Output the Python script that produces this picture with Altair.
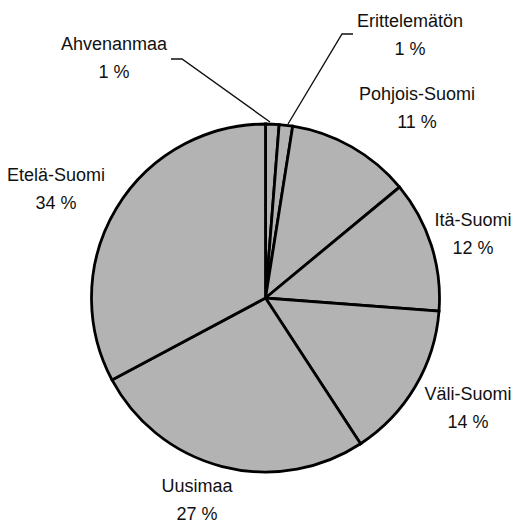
import altair as alt
import pandas as pd

# ---- data ----
regions = ["Ahvenanmaa", "Erittelemätön", "Pohjois-Suomi", "Itä-Suomi",
           "Väli-Suomi", "Uusimaa", "Etelä-Suomi"]
# shares as drawn (angles measured on the picture), clockwise from 12 o'clock
shares = [1.25, 1.25, 11.5, 12.2, 14.6, 26.4, 32.8]
# percentages as printed on the chart
pct_labels = ["1 %", "1 %", "11 %", "12 %", "14 %", "27 %", "34 %"]

# ---- layout (page pixels) ----
M = 8                      # page margin
CX, CY, R = 265.5, 298, 174
label_x = [114, 410, 417, 473, 468, 197, 56]
label_y = [45, 22, 95, 221, 395, 487, 176]
LINE_GAP = 28

leader_region = ["Ahvenanmaa"] * 3 + ["Erittelemätön"] * 3
leader_x = [171, 182, 270, 353, 342, 288]
leader_y = [59, 59, 122, 34, 34, 124]

pie_df = pd.DataFrame({"region": regions, "share": shares,
                       "idx": list(range(len(regions)))})

txt_rows = []
for r, p, x, y in zip(regions, pct_labels, label_x, label_y):
    txt_rows.append({"t": r, "x": x - M, "y": y - M})
    txt_rows.append({"t": p, "x": x - M, "y": y - M + LINE_GAP})
txt_df = pd.DataFrame(txt_rows)

lead_df = pd.DataFrame({"region": leader_region,
                        "x": [v - M for v in leader_x],
                        "y": [v - M for v in leader_y],
                        "o": [0, 1, 2, 0, 1, 2]})

pie = alt.Chart(pie_df).mark_arc(
    radius=R, fill="#b3b3b3", stroke="#000000", strokeWidth=2.8,
    strokeJoin="miter"
).encode(
    theta=alt.Theta("share:Q", stack=True),
    order=alt.Order("idx:Q"),
    x=alt.value(CX - M),
    y=alt.value(CY - M),
)

leaders = alt.Chart(lead_df).mark_line(
    color="#111111", strokeWidth=1.4
).encode(
    x=alt.X("x:Q", scale=None),
    y=alt.Y("y:Q", scale=None),
    detail="region:N",
    order="o:Q",
)

labels = alt.Chart(txt_df).mark_text(
    font="Liberation Sans", fontSize=18, color="#111111",
    align="center", baseline="middle"
).encode(
    x=alt.X("x:Q", scale=None),
    y=alt.Y("y:Q", scale=None),
    text="t:N",
)

chart = alt.layer(pie, leaders, labels).properties(
    width=505, height=516, padding=0,
    autosize=alt.AutoSizeParams(type="none"),
    background="white",
).configure_view(stroke=None)

chart.save("out.html", embed_options={"renderer": "svg", "actions": False})
